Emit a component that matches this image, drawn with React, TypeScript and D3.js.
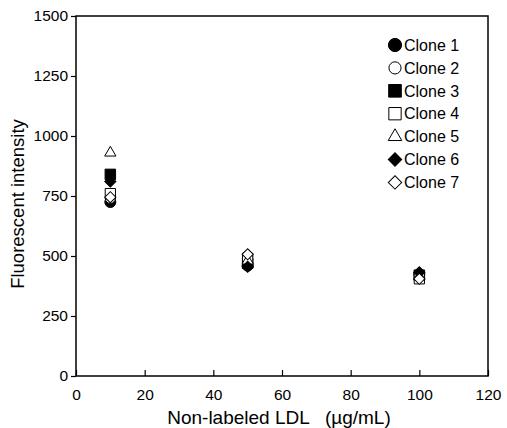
import * as d3 from "d3";
import { useEffect, useRef } from "react";

// LDL concentrations (µg/mL)
const DOSES = [10, 50, 100];
const CLONES = ["Clone 1", "Clone 2", "Clone 3", "Clone 4", "Clone 5", "Clone 6", "Clone 7"];
// fluorescent intensity per clone, one value per dose
const CLONE1 = [725, 460, 425];
const CLONE2 = [740, 500, 410];
const CLONE3 = [840, 470, 420];
const CLONE4 = [760, 490, 405];
const CLONE5 = [930, 480, 415];
const CLONE6 = [810, 455, 432];
const CLONE7 = [745, 507, 405];
const SERIES = [CLONE1, CLONE2, CLONE3, CLONE4, CLONE5, CLONE6, CLONE7];

const X_TICKS = [0, 20, 40, 60, 80, 100, 120];
const Y_TICKS = [0, 250, 500, 750, 1000, 1250, 1500];

// symbol style per clone (diamonds are squares turned 45deg)
const SHAPES = [
  { type: d3.symbolCircle, fill: true, size: 95, rot: 0 },
  { type: d3.symbolCircle, fill: false, size: 80, rot: 0 },
  { type: d3.symbolSquare, fill: true, size: 110, rot: 0 },
  { type: d3.symbolSquare, fill: false, size: 105, rot: 0 },
  { type: d3.symbolTriangle, fill: false, size: 55, rot: 0 },
  { type: d3.symbolSquare, fill: true, size: 62, rot: 45 },
  { type: d3.symbolSquare, fill: false, size: 62, rot: 45 },
];

const W = 507;
const H = 428;
const margin = { top: 16, right: 19, bottom: 52, left: 76 };
const FONT = "'Liberation Sans', Arial, sans-serif";

const App = () => {
  const svgRef = useRef<SVGSVGElement | null>(null);

  useEffect(() => {
    const width = W - margin.left - margin.right;
    const height = H - margin.top - margin.bottom;

    const svgEl = d3.select(svgRef.current);
    svgEl.selectAll("*").remove();
    svgEl.style("background", "#fff");
    const svg = svgEl
      .append("g")
      .attr("transform", `translate(${margin.left},${margin.top})`);

    const x = d3.scaleLinear().domain([0, 120]).range([0, width]);
    const y = d3.scaleLinear().domain([0, 1500]).range([height, 0]);

    // frame
    svg.append("rect")
      .attr("width", width)
      .attr("height", height)
      .attr("fill", "none")
      .attr("stroke", "#000")
      .attr("stroke-width", 1.5);

    // x axis, ticks pointing inward
    const xAxis = svg.append("g")
      .attr("transform", `translate(0,${height})`)
      .call(d3.axisBottom(x).tickValues(X_TICKS).tickSize(-6).tickPadding(13).tickFormat(d3.format("d")));
    xAxis.select(".domain").remove();
    xAxis.selectAll("line").attr("stroke", "#000").attr("stroke-width", 1.2);
    xAxis.selectAll("text")
      .attr("font-family", FONT)
      .attr("font-size", 15.5)
      .attr("fill", "#000");

    // y axis, ticks pointing outward
    const yAxis = svg.append("g")
      .call(d3.axisLeft(y).tickValues(Y_TICKS).tickSize(5).tickPadding(3).tickFormat(d3.format("d")));
    yAxis.select(".domain").remove();
    yAxis.selectAll("line").attr("stroke", "#000").attr("stroke-width", 1.2);
    yAxis.selectAll("text")
      .attr("font-family", FONT)
      .attr("font-size", 15.5)
      .attr("fill", "#000");

    // axis titles
    svg.append("text")
      .attr("x", width / 2 - 3)
      .attr("y", height + 48)
      .attr("text-anchor", "middle")
      .attr("font-family", FONT)
      .attr("font-size", 19)
      .style("white-space", "pre")
      .text("Non-labeled LDL   (\u00b5g/mL)");

    svg.append("text")
      .attr("transform", `translate(-52,${height / 2 + 8}) rotate(-90)`)
      .attr("text-anchor", "middle")
      .attr("font-family", FONT)
      .attr("font-size", 18.5)
      .text("Fluorescent intensity");

    // points
    SERIES.forEach((vals, i) => {
      const s = SHAPES[i];
      const sym = d3.symbol().type(s.type).size(s.size);
      svg.append("g")
        .selectAll("path")
        .data(vals)
        .enter()
        .append("path")
        .attr("d", sym)
        .attr("transform", (d, j) => `translate(${x(DOSES[j])},${y(d)}) rotate(${s.rot})`)
        .attr("fill", s.fill ? "#000" : "#fff")
        .attr("stroke", "#000")
        .attr("stroke-width", 1);
    });

    // legend
    const legend = svg.append("g").attr("transform", `translate(${319},${29})`);
    CLONES.forEach((name, i) => {
      const s = SHAPES[i];
      const row = legend.append("g").attr("transform", `translate(0,${i * 22.9})`);
      row.append("path")
        .attr("d", d3.symbol().type(s.type).size(s.size * 1.45)())
        .attr("transform", `rotate(${s.rot})`)
        .attr("fill", s.fill ? "#000" : "#fff")
        .attr("stroke", "#000")
        .attr("stroke-width", 1);
      row.append("text")
        .attr("x", 9)
        .attr("dy", "0.36em")
        .attr("font-family", FONT)
        .attr("font-size", 16)
        .text(name);
    });
  }, []);

  return (
    <svg
      ref={svgRef}
      width={W}
      height={H}
      style={{ position: "absolute", left: 0, top: 0 }}
    />
  );
};

export default App;
